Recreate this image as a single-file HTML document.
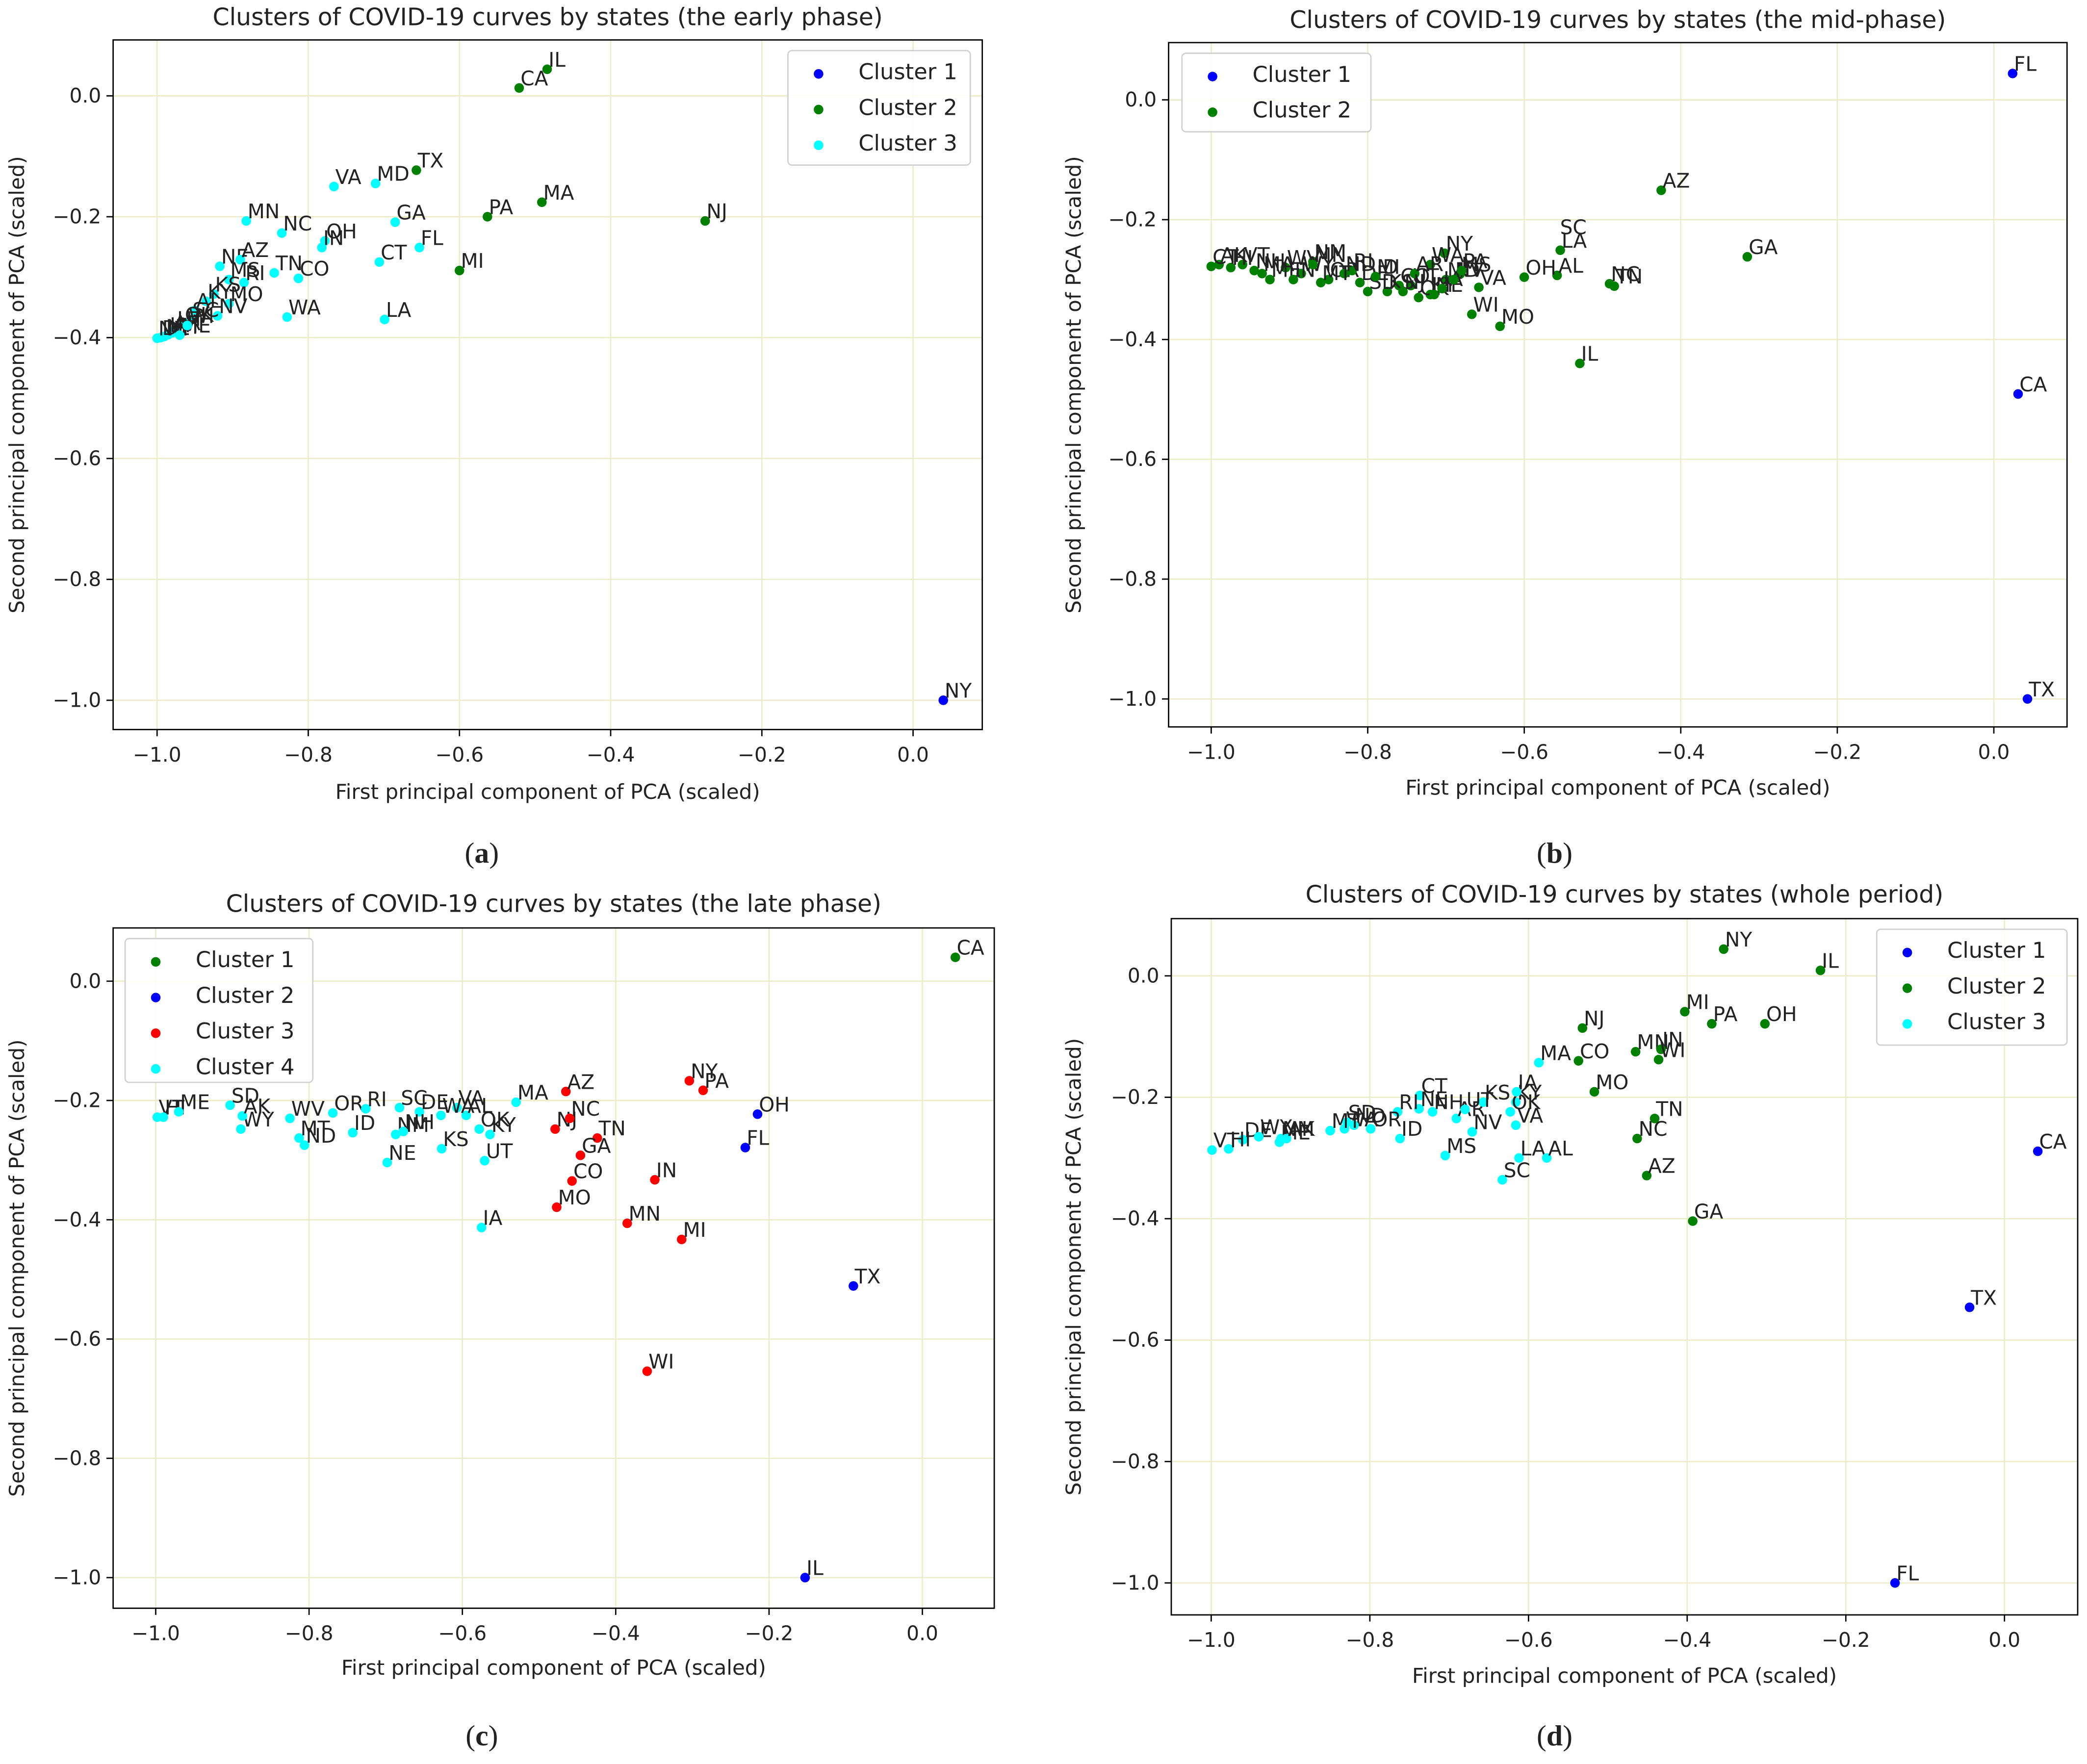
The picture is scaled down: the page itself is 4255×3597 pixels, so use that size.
<!DOCTYPE html>
<html><head><meta charset="utf-8"><style>
html,body{margin:0;padding:0;background:#fff;}
svg{display:block;}
text{font-family:"DejaVu Sans","Liberation Sans",sans-serif;fill:#222;}
</style></head><body>
<svg id="fig" width="4255" height="3597" viewBox="0 0 1568 1325" preserveAspectRatio="none" xmlns="http://www.w3.org/2000/svg"></svg>
<script>
// ---------- Panel (a) early phase ----------
const labelsA = ["IL","CA","NY","MA","PA","NJ","MI","TX","MD","VA","MN","NC","GA","OH","IN","FL","CT","NE","AZ","TN","CO","MS","RI","WA","LA","MO","KS","NV","KY","AL","SC","OK","UT","AR","IA","NM","DE","NH","ME","WI"];
const xA = [-0.484,-0.521,0.040,-0.491,-0.563,-0.275,-0.600,-0.657,-0.711,-0.766,-0.882,-0.835,-0.685,-0.778,-0.782,-0.653,-0.706,-0.917,-0.890,-0.845,-0.813,-0.905,-0.885,-0.828,-0.699,-0.905,-0.925,-0.920,-0.935,-0.950,-0.955,-0.965,-0.975,-0.980,-0.985,-0.990,-0.995,-1.000,-0.970,-0.960];
const yA = [0.044,0.013,-1.0,-0.176,-0.200,-0.207,-0.289,-0.123,-0.145,-0.150,-0.207,-0.227,-0.209,-0.240,-0.251,-0.251,-0.275,-0.282,-0.271,-0.293,-0.302,-0.304,-0.309,-0.366,-0.370,-0.344,-0.328,-0.364,-0.340,-0.355,-0.370,-0.378,-0.385,-0.392,-0.395,-0.398,-0.400,-0.401,-0.396,-0.380];
const clusterA = [2,2,1,2,2,2,2,2,3,3,3,3,3,3,3,3,3,3,3,3,3,3,3,3,3,3,3,3,3,3,3,3,3,3,3,3,3,3,3,3];
const colorsA = ["blue","green","cyan"];

// ---------- Panel (b) mid-phase ----------
const labelsB = ["FL","CA","TX","AZ","GA","LA","SC","NC","TN","AL","OH","IL","MO","WI","VA","MS","NY","WA","MD","KY","UT","ID","OR","NM","RI","DE","CO","KS","OK","NE","IA","NV","AR","SD","ND","MT","WY","WV","ME","NH","VT","HI","AK","CT","MA","IN","MN","MI","NJ","PA"];
const xB = [0.024,0.031,0.043,-0.425,-0.315,-0.554,-0.556,-0.491,-0.485,-0.558,-0.600,-0.529,-0.631,-0.667,-0.658,-0.682,-0.702,-0.720,-0.700,-0.720,-0.745,-0.790,-0.850,-0.870,-0.820,-0.810,-0.760,-0.775,-0.735,-0.715,-0.705,-0.690,-0.740,-0.800,-0.830,-0.860,-0.885,-0.905,-0.925,-0.945,-0.960,-0.975,-0.990,-1.000,-0.935,-0.895,-0.870,-0.790,-0.755,-0.680];
const yB = [0.044,-0.491,-1.0,-0.151,-0.262,-0.251,-0.251,-0.307,-0.311,-0.293,-0.296,-0.440,-0.378,-0.358,-0.313,-0.291,-0.256,-0.275,-0.300,-0.325,-0.310,-0.295,-0.300,-0.270,-0.285,-0.305,-0.310,-0.320,-0.330,-0.325,-0.315,-0.300,-0.290,-0.320,-0.290,-0.305,-0.290,-0.280,-0.300,-0.285,-0.275,-0.280,-0.275,-0.278,-0.290,-0.300,-0.275,-0.295,-0.320,-0.285];
const clusterB = [1,1,1,2,2,2,-1,2,2,2,2,2,2,2,2,2,2,2,2,2,2,2,2,2,2,2,2,2,2,2,2,2,2,2,2,2,2,2,2,2,2,2,2,2,2,2,2,2,2,2];
const colorsB = ["blue","green"];

// ---------- Panel (c) late phase ----------
const labelsC = ["CA","IL","TX","OH","FL","NY","PA","WI","MI","MN","IN","TN","GA","CO","MO","NJ","NC","AZ","MA","IA","UT","KY","OK","AL","VA","KS","NE","MT","ND","WV","OR","ID","RI","SC","DE","NM","NH","WA","WY","AK","SD","VT","HI","ME"];
const xC = [0.043,-0.153,-0.090,-0.215,-0.231,-0.304,-0.286,-0.359,-0.314,-0.385,-0.349,-0.424,-0.446,-0.457,-0.477,-0.479,-0.460,-0.465,-0.530,-0.575,-0.571,-0.564,-0.578,-0.595,-0.607,-0.627,-0.698,-0.813,-0.806,-0.825,-0.769,-0.743,-0.726,-0.682,-0.656,-0.687,-0.677,-0.628,-0.889,-0.887,-0.903,-0.998,-0.990,-0.970];
const yC = [0.040,-1.0,-0.511,-0.223,-0.279,-0.167,-0.183,-0.654,-0.433,-0.406,-0.333,-0.263,-0.292,-0.335,-0.379,-0.248,-0.230,-0.185,-0.203,-0.413,-0.301,-0.257,-0.248,-0.225,-0.212,-0.281,-0.304,-0.263,-0.275,-0.230,-0.221,-0.254,-0.214,-0.212,-0.219,-0.257,-0.252,-0.225,-0.248,-0.226,-0.208,-0.228,-0.228,-0.219];
const clusterC = [1,2,2,2,2,3,3,3,3,3,3,3,3,3,3,3,3,3,4,4,4,4,4,4,4,4,4,4,4,4,4,4,4,4,4,4,4,4,4,4,4,4,4,4];
const colorsC = ["green","blue","red","cyan"];

// ---------- Panel (d) whole period ----------
const labelsD = ["NY","IL","CA","TX","FL","MI","PA","OH","NJ","MN","IN","WI","CO","MA","MO","TN","NC","AZ","GA","LA","AL","SC","MS","NV","AR","KS","KY","OK","VA","IA","CT","NE","NH","RI","ID","OR","WA","SD","ND","NM","ME","AK","DE","HI","VT","MT","UT","WY"];
const xD = [-0.354,-0.232,0.042,-0.044,-0.138,-0.403,-0.369,-0.302,-0.532,-0.465,-0.433,-0.436,-0.537,-0.587,-0.517,-0.441,-0.463,-0.451,-0.393,-0.612,-0.577,-0.633,-0.705,-0.671,-0.691,-0.657,-0.616,-0.623,-0.616,-0.615,-0.737,-0.738,-0.721,-0.765,-0.762,-0.799,-0.832,-0.829,-0.820,-0.912,-0.914,-0.905,-0.960,-0.978,-0.999,-0.850,-0.680,-0.940];
const yD = [0.044,0.009,-0.289,-0.546,-1.0,-0.059,-0.079,-0.079,-0.086,-0.125,-0.121,-0.138,-0.140,-0.143,-0.191,-0.235,-0.268,-0.329,-0.404,-0.300,-0.300,-0.336,-0.296,-0.257,-0.235,-0.208,-0.208,-0.224,-0.246,-0.191,-0.197,-0.219,-0.224,-0.224,-0.268,-0.252,-0.252,-0.241,-0.246,-0.268,-0.274,-0.268,-0.270,-0.285,-0.287,-0.255,-0.220,-0.265];
const clusterD = [2,2,1,1,1,2,2,2,2,2,2,2,2,3,2,2,2,2,2,3,3,3,3,3,3,3,3,3,3,3,3,3,3,3,3,3,3,3,3,3,3,3,3,3,3,3,3,3];
const colorsD = ["blue","green","cyan"];

const xTicks = [-1.0,-0.8,-0.6,-0.4,-0.2,0.0];
const yTicks = [0.0,-0.2,-0.4,-0.6,-0.8,-1.0];

const NS = "http://www.w3.org/2000/svg";
const fig = document.getElementById("fig");
function mk(tag, attrs, parent, text){
  const e = document.createElementNS(NS, tag);
  for (const k in attrs) e.setAttribute(k, attrs[k]);
  if (text !== undefined) e.textContent = text;
  (parent || fig).appendChild(e);
  return e;
}
function fmt(v){ const s = v.toFixed(1); return v < 0 ? "\u2212" + s.slice(1) : (s === "-0.0" ? "0.0" : s); }

const panels = [
 {id:"a", title:"Clusters of COVID-19 curves by states (the early phase)", box:[85,30,738,548], x0:686, xs:568, y0:72, ys:454, titleY:19, xlabY:600, ylabX:18, cap:[362,648], labels:labelsA, xs_:xA, ys_:yA, cl:clusterA, colors:colorsA, leg:[592,38,137,86]},
 {id:"b", title:"Clusters of COVID-19 curves by states (the mid-phase)", box:[878,32,1553,546], x0:1498, xs:588, y0:75, ys:450, titleY:21, xlabY:597, ylabX:812, cap:[1168,648], labels:labelsB, xs_:xB, ys_:yB, cl:clusterB, colors:colorsB, leg:[888,40,142,59]},
 {id:"c", title:"Clusters of COVID-19 curves by states (the late phase)", box:[85,697,747,1208], x0:693, xs:576, y0:737, ys:448, titleY:685, xlabY:1258, ylabX:18, cap:[362,1311], labels:labelsC, xs_:xC, ys_:yC, cl:clusterC, colors:colorsC, leg:[94,705,141,108]},
 {id:"d", title:"Clusters of COVID-19 curves by states (whole period)", box:[880,690,1561,1213], x0:1506, xs:596, y0:733, ys:456, titleY:678, xlabY:1264, ylabX:812, cap:[1168,1311], labels:labelsD, xs_:xD, ys_:yD, cl:clusterD, colors:colorsD, leg:[1410,698,143,87]}
];

panels.forEach(p => {
  const g = mk("g", {});
  
  
  const [L,T,R,B] = p.box;
  const X = v => p.x0 + v * p.xs;
  const Y = v => p.y0 - v * p.ys;
  xTicks.forEach(t => {
    const ln = mk("line", {x1:X(t), x2:X(t), y1:T, y2:B, stroke:"#ecedc8", "stroke-width":1}, g);
    
    
  });
  yTicks.forEach(t => {
    const ln = mk("line", {x1:L, x2:R, y1:Y(t), y2:Y(t), stroke:"#ecedc8", "stroke-width":1}, g);
    
    
  });
  p.labels.forEach((lab, i) => {
    const c = p.cl[i];
    const px = X(p.xs_[i]), py = Y(p.ys_[i]);
    if (c > 0) {
      const pt = mk("circle", {cx:px, cy:py, r:3.6, fill:p.colors[c-1]}, g);
      
      
    }
    const tx = mk("text", {x:px+1, y:(c > 0 ? py-2 : py-12), "font-size":15}, g, lab);
    
    
  });
  const fr = mk("rect", {x:L, y:T, width:R-L, height:B-T, fill:"none", stroke:"#000", "stroke-width":1}, g);
  
  
  xTicks.forEach(t => {
    mk("line", {x1:X(t), x2:X(t), y1:B, y2:B+5, stroke:"#000"}, g);
    const tl = mk("text", {x:X(t), y:B+24, "font-size":15, "text-anchor":"middle"}, g, fmt(t));
    
    
  });
  yTicks.forEach(t => {
    mk("line", {x1:L-5, x2:L, y1:Y(t), y2:Y(t), stroke:"#000"}, g);
    const tl = mk("text", {x:L-9, y:Y(t)+5, "font-size":15, "text-anchor":"end"}, g, fmt(t));
    
    
  });
  const tt = mk("text", {x:(L+R)/2, y:p.titleY, "font-size":18, "text-anchor":"middle"}, g, p.title);
  
  
  const xl = mk("text", {x:(L+R)/2, y:p.xlabY, "font-size":15.5, "text-anchor":"middle"}, g, "First principal component of PCA (scaled)");
  
  
  const yl = mk("text", {x:0, y:0, "font-size":15.5, "text-anchor":"middle", transform:`translate(${p.ylabX},${(T+B)/2}) rotate(-90)`}, g, "Second principal component of PCA (scaled)");
  
  
  const cap = mk("text", {x:p.cap[0], y:p.cap[1], "font-size":22, "text-anchor":"middle", style:"font-family:'Liberation Serif',serif"}, g);
  mk("tspan", {}, cap, "(");
  mk("tspan", {"font-weight":"bold"}, cap, p.id);
  mk("tspan", {}, cap, ")");
  
  
  const [lx,ly,lw,lh] = p.leg;
  const lg = mk("g", {}, g);
  
  
  mk("rect", {x:lx, y:ly, width:lw, height:lh, rx:3, fill:"#fff", "fill-opacity":0.85, stroke:"#d0d0d0"}, lg);
  p.colors.forEach((col, k) => {
    const ey = ly + 15.5 + k * 26.8;
    const ent = mk("g", {}, lg);
    
    
    mk("circle", {cx:lx+23, cy:ey+2, r:3.6, fill:col}, ent);
    mk("text", {x:lx+53, y:ey+6, "font-size":16.5}, ent, "Cluster " + (k+1));
  });
});
</script>
</body></html>
